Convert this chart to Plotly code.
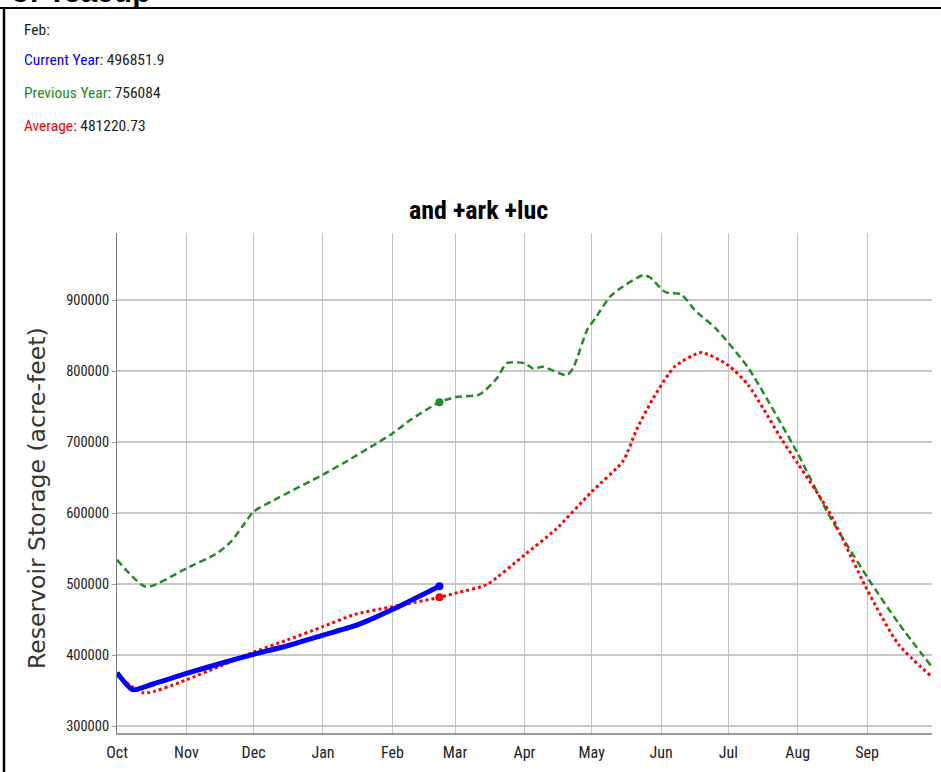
import plotly.graph_objects as go

# ---------------- data ----------------
cur_dates = ["2022-10-01", "2022-10-08", "2022-10-15", "2022-10-22", "2022-11-01",
             "2022-11-15", "2022-12-01", "2022-12-15", "2023-01-01", "2023-01-15",
             "2023-01-20", "2023-02-01", "2023-02-10", "2023-02-22"]
cur_vals = [375000, 351000, 357000, 364000, 374000,
            387000, 401000, 412000, 428000, 441000,
            447000, 464000, 478000, 496851.9]

avg_dates = ["2022-10-01", "2022-10-13", "2022-11-01", "2022-11-15", "2022-12-01",
             "2022-12-15", "2023-01-01", "2023-01-15", "2023-02-01", "2023-02-22",
             "2023-03-01", "2023-03-15", "2023-04-01", "2023-04-15", "2023-05-01",
             "2023-05-15", "2023-05-21", "2023-05-28", "2023-06-07", "2023-06-19",
             "2023-07-01", "2023-07-10", "2023-07-25", "2023-08-01", "2023-08-15",
             "2023-09-01", "2023-09-15", "2023-09-30"]
avg_vals = [372000, 346500, 365000, 383000, 404000,
            420000, 440000, 457000, 468000, 481220.73,
            487000, 499000, 541000, 577000, 630000,
            673000, 717000, 759000, 806000, 826000,
            808000, 780000, 703000, 670000, 602000,
            492000, 415000, 369000]

prev_dates = ["2022-10-01", "2022-10-14", "2022-11-01", "2022-11-15", "2022-11-21",
              "2022-11-26", "2022-12-01", "2022-12-10", "2023-01-01", "2023-01-10",
              "2023-02-01", "2023-02-09", "2023-02-22", "2023-03-01", "2023-03-12",
              "2023-03-20", "2023-03-24", "2023-04-01", "2023-04-05", "2023-04-09",
              "2023-04-20", "2023-04-23", "2023-04-29", "2023-05-03", "2023-05-09",
              "2023-05-14", "2023-05-24", "2023-05-27", "2023-06-03", "2023-06-10",
              "2023-06-16", "2023-06-26", "2023-07-10", "2023-08-01", "2023-08-15",
              "2023-09-01", "2023-09-15", "2023-09-30"]
prev_vals = [534000, 496000, 522000, 544000, 560000,
             581000, 602000, 618000, 654000, 670000,
             712000, 731000, 756084, 763000, 767000,
             791000, 811000, 811000, 803000, 806000,
             794000, 806000, 858000, 876000, 904000,
             917000, 935000, 932000, 911000, 908000,
             886000, 858000, 804000, 684000, 597000,
             510000, 445000, 383000]

month_ticks = ["2022-10-01", "2022-11-01", "2022-12-01", "2023-01-01", "2023-02-01",
               "2023-03-01", "2023-04-01", "2023-05-01", "2023-06-01", "2023-07-01",
               "2023-08-01", "2023-09-01"]
month_labels = ["Oct", "Nov", "Dec", "Jan", "Feb", "Mar", "Apr", "May", "Jun",
                "Jul", "Aug", "Sep"]
y_ticks = [300000, 400000, 500000, 600000, 700000, 800000, 900000]

info_month = "Feb"
cur_label, prev_label, avg_label = "Current Year", "Previous Year", "Average"

# ---------------- styling ----------------
NARROW = "Liberation Sans Narrow, Arial Narrow, Roboto Condensed, Liberation Sans, Arial, sans-serif"
BLUE, GREEN, RED = "#0000ff", "#228b22", "#ff0000"

fig = go.Figure()
fig.add_trace(go.Scatter(x=prev_dates, y=prev_vals, mode="lines",
                         line=dict(color=GREEN, width=2.5, dash="7px,4px", shape="spline", smoothing=0.6),
                         hoverinfo="skip"))
fig.add_trace(go.Scatter(x=avg_dates, y=avg_vals, mode="lines",
                         line=dict(color=RED, width=3, dash="3px,3px", shape="spline", smoothing=0.6),
                         hoverinfo="skip"))
fig.add_trace(go.Scatter(x=cur_dates, y=cur_vals, mode="lines",
                         line=dict(color=BLUE, width=5, shape="spline", smoothing=0.6),
                         hoverinfo="skip"))
# end-point markers
fig.add_trace(go.Scatter(x=[prev_dates[12]], y=[prev_vals[12]], mode="markers",
                         marker=dict(color=GREEN, size=8)))
fig.add_trace(go.Scatter(x=[avg_dates[9]], y=[avg_vals[9]], mode="markers",
                         marker=dict(color=RED, size=8)))
fig.add_trace(go.Scatter(x=[cur_dates[-1]], y=[cur_vals[-1]], mode="markers",
                         marker=dict(color=BLUE, size=8)))

L, R, T, B = 117, 9, 233, 39
W, H = 941, 772
pw, ph = W - L - R, H - T - B

def px_x(px):
    return (px - L) / pw

def px_y(py):
    return (H - B - py) / ph

fig.update_layout(
    width=W, height=H,
    margin=dict(l=L, r=R, t=T, b=B),
    paper_bgcolor="white", plot_bgcolor="white",
    showlegend=False,
    xaxis=dict(
        type="date",
        range=["2022-10-01", "2023-09-30"],
        tickvals=month_ticks, ticktext=month_labels,
        showgrid=True, gridcolor="#c4c4c4", gridwidth=1,
        showline=True, linecolor="#9a9a9a", linewidth=2,
        ticks="", zeroline=False, ticklabelstandoff=4,
        tickfont=dict(family=NARROW, size=16, color="#222"),
    ),
    yaxis=dict(
        range=[290140, 994366],
        tickvals=y_ticks, tickformat="d",
        showgrid=True, gridcolor="#c8c8c8", gridwidth=2,
        showline=True, linecolor="#777", linewidth=1,
        ticks="outside", ticklen=4, tickcolor="#999",
        zeroline=False,
        tickfont=dict(family=NARROW, size=14.5, color="#222"),
    ),
)

annotations = [
    dict(text="<b>and +ark +luc</b>", x=px_x(478), y=px_y(210), xref="paper", yref="paper",
         showarrow=False, xanchor="center", yanchor="middle",
         font=dict(family=NARROW, size=26, color="#000")),
    dict(text="Reservoir Storage (acre-feet)", x=px_x(37), y=px_y(498), xref="paper", yref="paper",
         showarrow=False, textangle=-90, xanchor="center", yanchor="middle",
         font=dict(family="DejaVu Sans, Verdana, sans-serif", size=23.5, color="#333")),
    dict(text=f"{info_month}:", x=px_x(22), y=px_y(30), xref="paper", yref="paper",
         showarrow=False, xanchor="left", yanchor="middle",
         font=dict(family=NARROW, size=15.5, color="#222")),
    dict(text=f"<span style='color:{BLUE}'>{cur_label}</span>: {cur_vals[-1]}",
         x=px_x(22), y=px_y(60), xref="paper", yref="paper",
         showarrow=False, xanchor="left", yanchor="middle",
         font=dict(family=NARROW, size=15.5, color="#222")),
    dict(text=f"<span style='color:{GREEN}'>{prev_label}</span>: {prev_vals[12]}",
         x=px_x(22), y=px_y(93), xref="paper", yref="paper",
         showarrow=False, xanchor="left", yanchor="middle",
         font=dict(family=NARROW, size=15.5, color="#222")),
    dict(text=f"<span style='color:{RED}'>{avg_label}</span>: {avg_vals[9]}",
         x=px_x(22), y=px_y(126), xref="paper", yref="paper",
         showarrow=False, xanchor="left", yanchor="middle",
         font=dict(family=NARROW, size=15.5, color="#222")),
    dict(text="<b>of Teacup</b>", x=px_x(152), y=px_y(10), xref="paper", yref="paper",
         showarrow=False, xanchor="right", yanchor="bottom",
         font=dict(family="Liberation Sans, Arial, sans-serif", size=30, color="#000")),
]
fig.update_layout(annotations=annotations)

# page frame lines (top rule and left rule)
fig.add_shape(type="line", xref="paper", yref="paper",
              x0=px_x(0), x1=px_x(W), y0=px_y(8), y1=px_y(8),
              line=dict(color="#000", width=2))
fig.add_shape(type="line", xref="paper", yref="paper",
              x0=px_x(4), x1=px_x(4), y0=px_y(8), y1=px_y(H),
              line=dict(color="#000", width=2.5))

fig.write_html("out.html", config={"displayModeBar": False},
               post_script="document.body.style.margin='0px';document.body.style.overflow='hidden';")
